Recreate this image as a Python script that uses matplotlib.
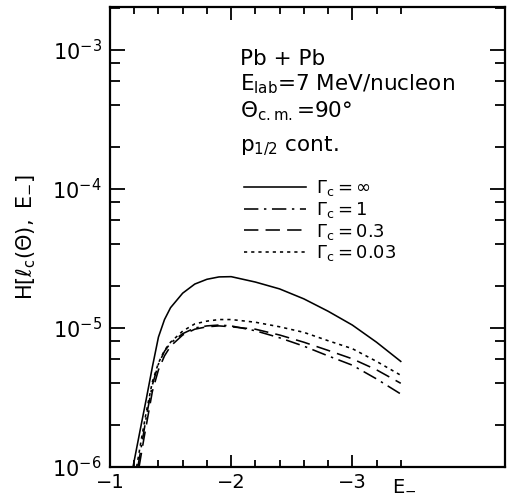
import numpy as np
import matplotlib
matplotlib.use("Agg")
import matplotlib.pyplot as plt
from matplotlib.ticker import LogLocator, FixedLocator, FixedFormatter

plt.rcParams['mathtext.default'] = 'regular'
plt.rcParams['font.family'] = ['DejaVu Sans']

# curves, H in units of 1e-5
e_inf = [-1.19, -1.25, -1.3, -1.35, -1.4, -1.45, -1.5, -1.6, -1.7, -1.8, -1.9, -2.0, -2.2, -2.4, -2.6, -2.8, -3.0, -3.2, -3.4]
h_inf = [0.10, 0.186, 0.31, 0.525, 0.86, 1.15, 1.40, 1.78, 2.07, 2.24, 2.33, 2.34, 2.14, 1.91, 1.62, 1.32, 1.05, 0.79, 0.575]

e_1 = [-1.23, -1.27, -1.3, -1.35, -1.4, -1.45, -1.5, -1.6, -1.7, -1.8, -1.9, -2.0, -2.2, -2.4, -2.6, -2.8, -3.0, -3.2, -3.4]
h_1 = [0.10, 0.16, 0.23, 0.39, 0.55, 0.68, 0.78, 0.91, 1.0, 1.035, 1.05, 1.035, 0.955, 0.85, 0.74, 0.63, 0.54, 0.43, 0.335]

e_03 = [-1.24, -1.28, -1.3, -1.35, -1.4, -1.45, -1.5, -1.6, -1.7, -1.8, -1.9, -2.0, -2.2, -2.4, -2.6, -2.8, -3.0, -3.2, -3.4]
h_03 = [0.10, 0.16, 0.20, 0.35, 0.50, 0.63, 0.74, 0.89, 0.98, 1.02, 1.035, 1.02, 0.98, 0.89, 0.79, 0.69, 0.60, 0.50, 0.40]

e_003 = [-1.22, -1.26, -1.3, -1.35, -1.4, -1.45, -1.5, -1.6, -1.7, -1.8, -1.9, -2.0, -2.2, -2.4, -2.6, -2.8, -3.0, -3.2, -3.4]
h_003 = [0.10, 0.16, 0.25, 0.41, 0.56, 0.69, 0.79, 0.95, 1.07, 1.12, 1.15, 1.15, 1.10, 1.02, 0.93, 0.81, 0.71, 0.575, 0.457]

labels = [r'$\Gamma_c = \infty$', r'$\Gamma_c = 1$', r'$\Gamma_c = 0.3$', r'$\Gamma_c = 0.03$']
styles = ['-', (0, (9, 3.5, 1.5, 3.5)), (0, (9, 4.5)), (0, (2, 2.5))]

x_major = [-1, -2, -3]
x_major_labels = ['\u22121', '\u22122', '\u22123']
x_minor = [-1.2, -1.4, -1.6, -1.8, -2.2, -2.4, -2.6, -2.8, -3.2, -3.4]

fig = plt.figure(figsize=(5.08, 4.95), dpi=100)
ax = fig.add_axes([0.2165, 0.0566, 0.7775, 0.9294])

curves = [(e_inf, h_inf), (e_1, h_1), (e_03, h_03), (e_003, h_003)]
for (e, h), ls, lab in zip(curves, styles, labels):
    ax.plot(e, np.array(h) * 1e-5, color='black', lw=1.15, linestyle=ls, label=lab)

ax.set_yscale('log')
ax.set_xlim(-1, -4.26)
ax.set_ylim(1e-6, 2.04e-3)

ax.yaxis.set_major_locator(LogLocator(base=10, numticks=10))
ax.yaxis.set_minor_locator(LogLocator(base=10, subs=(2, 4, 6, 8), numticks=10))
ax.xaxis.set_major_locator(FixedLocator(x_major))
ax.xaxis.set_major_formatter(FixedFormatter(x_major_labels))
ax.xaxis.set_minor_locator(FixedLocator(x_minor))

ax.tick_params(which='both', direction='in', top=True, right=True, width=1.3)
ax.tick_params(axis='y', which='major', length=11, labelsize=15, pad=6)
ax.tick_params(axis='y', which='minor', length=7)
ax.tick_params(axis='x', which='major', length=9, labelsize=14, pad=4)
ax.tick_params(axis='x', which='minor', length=5)
for s in ax.spines.values():
    s.set_linewidth(1.6)

ax.set_ylabel(r'H$\left[\ell_c(\Theta),\ E_{-}\right]$', fontsize=15, labelpad=10)
ax.text(-3.33, -0.018, r'E$_{-}$', transform=ax.get_xaxis_transform(),
        ha='left', va='top', fontsize=14)

info = ['Pb + Pb', r'E$_{lab}$=7 MeV/nucleon', r'$\Theta_{c.m.}$=90°', r'p$_{1/2}$ cont.']
info_y = [0.874, 0.818, 0.759, 0.685]
for t, yy in zip(info, info_y):
    ax.text(0.329, yy, t, transform=ax.transAxes, fontsize=15.5, va='baseline', ha='left')

ax.legend(loc='upper left', bbox_to_anchor=(0.34, 0.628), frameon=False,
          fontsize=13, handlelength=3.4, handletextpad=0.6, labelspacing=0.1,
          borderpad=0, borderaxespad=0)

plt.savefig('out.png', dpi=100)
